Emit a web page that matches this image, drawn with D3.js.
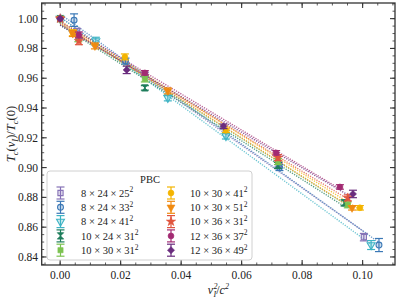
<!DOCTYPE html>
<html><head><meta charset="utf-8">
<script src="https://cdn.jsdelivr.net/npm/d3@7"></script>
<style>
html,body{margin:0;padding:0;background:#fff;}
svg{display:block;font-family:"Liberation Serif","DejaVu Serif",serif;}
</style></head>
<body>
<svg id="chart" width="399" height="299"></svg>
<script>
// ---- data ----
const seriesNames = ["8 × 24 × 25", "8 × 24 × 33", "8 × 24 × 41", "10 × 24 × 31", "10 × 30 × 31",
                     "10 × 30 × 41", "10 × 30 × 51", "10 × 36 × 31", "12 × 36 × 37", "12 × 36 × 49"];
const seriesColors = ["#8672b6", "#3a78b6", "#3db3c4", "#1e7d5c", "#7cc251",
                      "#f4b400", "#f08a10", "#e0553e", "#a22a72", "#6a2c7e"];
const seriesMarkers = ["square-open", "circle-open", "tri-open", "bowtie", "square",
                       "circle", "tri", "star", "circle", "diamond"];
// x = v_I^2/c^2, y = Tc(v_I)/Tc(0), e = error
const xs = [
  [0, 0.0056, 0.028, 0.0723, 0.1004],
  [0, 0.0046, 0.0216, 0.0725, 0.1054],
  [0, 0.0118, 0.0356, 0.0548, 0.1028],
  [0, 0.028, 0.072, 0.094],
  [0, 0.006, 0.028, 0.072, 0.0951],
  [0, 0.0042, 0.0214, 0.0548, 0.0991],
  [0, 0.0042, 0.0115, 0.0356, 0.0965],
  [0, 0.0062, 0.072, 0.0951],
  [0, 0.0062, 0.028, 0.0714, 0.0925],
  [0, 0.022, 0.054, 0.0968]
];
const ys = [
  [1.0, 0.9915, 0.9625, 0.902, 0.8533],
  [1.0, 0.999, 0.9715, 0.900, 0.848],
  [1.0, 0.985, 0.9468, 0.9212, 0.848],
  [1.0, 0.9535, 0.9015, 0.8763],
  [1.0, 0.9865, 0.9595, 0.904, 0.875],
  [1.0, 0.9905, 0.9743, 0.925, 0.873],
  [1.0, 0.990, 0.9817, 0.9515, 0.873],
  [1.0, 0.985, 0.9067, 0.8797],
  [1.0, 0.989, 0.9636, 0.9099, 0.887],
  [1.0, 0.9656, 0.9277, 0.8823]
];
const es = [
  [0.0005, 0.002, 0.0015, 0.0015, 0.0025],
  [0.0005, 0.0042, 0.002, 0.002, 0.0044],
  [0.0005, 0.0025, 0.002, 0.002, 0.003],
  [0.0005, 0.0015, 0.002, 0.002],
  [0.0005, 0.002, 0.002, 0.002, 0.002],
  [0.0005, 0.002, 0.002, 0.0015, 0.0015],
  [0.0005, 0.002, 0.002, 0.002, 0.0015],
  [0.0005, 0.0025, 0.002, 0.002],
  [0.0005, 0.002, 0.0015, 0.0015, 0.0015],
  [0.0005, 0.0025, 0.0015, 0.0025]
];
const xTicks = [0.00, 0.02, 0.04, 0.06, 0.08, 0.10];
const yTicks = [0.84, 0.86, 0.88, 0.90, 0.92, 0.94, 0.96, 0.98, 1.00];
const legendTitle = "PBC";

// ---- chart ----
const svg = d3.select("#chart");
const L = 41.7, R = 395, T = 3, B = 265;
const x = d3.scaleLinear().domain([-0.0061, 0.1107]).range([L, R]);
const y = d3.scaleLinear().domain([0.8346, 1.0105]).range([B, T]);
const axisCol = "#333";

const plot = svg.append("g");

// fit lines (least squares per series)
seriesNames.forEach((n, i) => {
  const X = xs[i], Y = ys[i];
  const mx = d3.mean(X), my = d3.mean(Y);
  const b = d3.sum(X.map((v, k) => (v - mx) * (Y[k] - my))) / d3.sum(X.map(v => (v - mx) ** 2));
  const a = my - b * mx;
  const x0 = 0, x1 = d3.max(X);
  plot.append("line")
    .attr("x1", x(x0)).attr("y1", y(a + b * x0))
    .attr("x2", x(x1)).attr("y2", y(a + b * x1))
    .attr("stroke", seriesColors[i]).attr("stroke-width", 1.4)
    .attr("stroke-dasharray", "1.2,1.3").attr("opacity", 0.75);
});

function drawMarker(g, type, color, cx, cy) {
  const s = 27;
  let sym, rot = 0, open = false;
  switch (type) {
    case "square-open": sym = d3.symbolSquare; open = true; break;
    case "circle-open": sym = d3.symbolCircle; open = true; break;
    case "tri-open": sym = d3.symbolTriangle; rot = 180; open = true; break;
    case "square": sym = d3.symbolSquare; break;
    case "circle": sym = d3.symbolCircle; break;
    case "tri": sym = d3.symbolTriangle; rot = 180; break;
    case "star": sym = d3.symbolStar; break;
    case "diamond": sym = d3.symbolDiamond2; break;
    case "bowtie": sym = null; break;
  }
  if (type === "bowtie") {
    g.append("path")
      .attr("d", `M${cx-3.2},${cy-3.2}L${cx+3.2},${cy-3.2}L${cx-3.2},${cy+3.2}L${cx+3.2},${cy+3.2}Z`)
      .attr("fill", color).attr("stroke", color).attr("stroke-width", 0.8);
    return;
  }
  g.append("path")
    .attr("d", d3.symbol().type(sym).size(type === "diamond" ? 32 : s)())
    .attr("transform", `translate(${cx},${cy}) rotate(${rot})`)
    .attr("fill", color).attr("fill-opacity", open ? 0.25 : 1)
    .attr("stroke", color).attr("stroke-width", open ? 1.1 : 0.6);
}

function errBar(g, color, cx, yTop, yBot) {
  g.append("line").attr("x1", cx).attr("x2", cx).attr("y1", yTop).attr("y2", yBot)
    .attr("stroke", color).attr("stroke-width", 1.2);
  [yTop, yBot].forEach(yy => g.append("line").attr("x1", cx - 4).attr("x2", cx + 4)
    .attr("y1", yy).attr("y2", yy).attr("stroke", color).attr("stroke-width", 1.2));
}

seriesNames.forEach((n, i) => {
  const g = plot.append("g");
  xs[i].forEach((xv, k) => {
    const cx = x(xv), cy = y(ys[i][k]);
    if (k > 0) errBar(g, seriesColors[i], cx, y(ys[i][k] + es[i][k]), y(ys[i][k] - es[i][k]));
    drawMarker(g, seriesMarkers[i], seriesColors[i], cx, cy);
  });
});

// frame & ticks
const ax = svg.append("g");
ax.append("rect").attr("x", L).attr("y", T).attr("width", R - L).attr("height", B - T)
  .attr("fill", "none").attr("stroke", axisCol).attr("stroke-width", 1.3);
const xMinor = d3.range(-0.005, 0.1101, 0.005).filter(v => v >= x.domain()[0]);
const yMinor = d3.range(0.835, 1.0101, 0.005);
function tk(x1, y1, x2, y2, w) {
  ax.append("line").attr("x1", x1).attr("y1", y1).attr("x2", x2).attr("y2", y2)
    .attr("stroke", axisCol).attr("stroke-width", w);
}
xMinor.forEach(v => { tk(x(v), B, x(v), B - 2.5, 0.8); tk(x(v), T, x(v), T + 2.5, 0.8); });
yMinor.forEach(v => { tk(L, y(v), L + 2.5, y(v), 0.8); tk(R, y(v), R - 2.5, y(v), 0.8); });
xTicks.forEach(v => {
  tk(x(v), B, x(v), B - 5, 1.1); tk(x(v), T, x(v), T + 5, 1.1);
  ax.append("text").attr("x", x(v)).attr("y", 279).attr("text-anchor", "middle")
    .attr("font-size", 11.5).attr("fill", "#222").text(v.toFixed(2));
});
yTicks.forEach(v => {
  tk(L, y(v), L + 5, y(v), 1.1); tk(R, y(v), R - 5, y(v), 1.1);
  ax.append("text").attr("x", 38).attr("y", y(v) + 4).attr("text-anchor", "end")
    .attr("font-size", 11.5).attr("fill", "#222").text(v.toFixed(2));
});

// axis labels
const xl = svg.append("text").attr("x", (L + R) / 2).attr("y", 294).attr("text-anchor", "middle")
  .attr("font-size", 12).attr("fill", "#222").attr("font-style", "italic");
xl.append("tspan").text("v");
xl.append("tspan").attr("font-size", 8).attr("dy", -5).attr("dx", 0.5).text("2");
xl.append("tspan").attr("font-size", 8).attr("dy", 8).attr("dx", -4).text("I");
xl.append("tspan").attr("dy", -3).attr("font-style", "normal").text("/");
xl.append("tspan").text("c");
xl.append("tspan").attr("font-size", 8).attr("dy", -5).text("2");

const yl = svg.append("text").attr("transform", `translate(15,${(T + B) / 2}) rotate(-90)`)
  .attr("text-anchor", "middle").attr("font-size", 12.5).attr("fill", "#222");
yl.append("tspan").attr("font-style", "italic").text("T");
yl.append("tspan").attr("font-style", "italic").attr("font-size", 8.5).attr("dy", 2.5).text("c");
yl.append("tspan").attr("dy", -2.5).text("(");
yl.append("tspan").attr("font-style", "italic").text("v");
yl.append("tspan").attr("font-style", "italic").attr("font-size", 8.5).attr("dy", 2.5).text("I");
yl.append("tspan").attr("dy", -2.5).text(")/");
yl.append("tspan").attr("font-style", "italic").text("T");
yl.append("tspan").attr("font-style", "italic").attr("font-size", 8.5).attr("dy", 2.5).text("c");
yl.append("tspan").attr("dy", -2.5).text("(0)");

// legend
const lg = svg.append("g");
lg.append("rect").attr("x", 47).attr("y", 171).attr("width", 205).attr("height", 89)
  .attr("rx", 3).attr("fill", "#fff").attr("fill-opacity", 0.85)
  .attr("stroke", "#d0d0d0").attr("stroke-width", 1);
lg.append("text").attr("x", 150).attr("y", 183).attr("text-anchor", "middle")
  .attr("font-size", 10.5).attr("fill", "#222").text(legendTitle);
seriesNames.forEach((n, i) => {
  const col = Math.floor(i / 5), row = i % 5;
  const mx = col === 0 ? 60.5 : 171, ty = 193 + row * 14.3;
  const tx = col === 0 ? 81 : 190;
  errBar(lg, seriesColors[i], mx, ty - 6, ty + 6);
  drawMarker(lg, seriesMarkers[i], seriesColors[i], mx, ty);
  const t = lg.append("text").attr("x", tx).attr("y", ty + 3.8).attr("font-size", 10.5).attr("fill", "#222");
  t.append("tspan").text(n);
  t.append("tspan").attr("font-size", 7.5).attr("dy", -4.5).text("2");
});
</script>
</body></html>
